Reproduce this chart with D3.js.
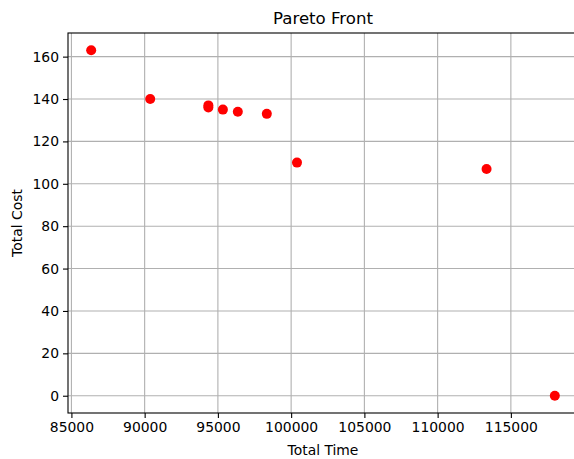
<!DOCTYPE html>
<html>
<head>
<meta charset="utf-8">
<script src="https://cdn.jsdelivr.net/npm/d3@7"></script>
<style>
  html, body { margin: 0; padding: 0; background: #fff; }
  svg { display: block; font-family: "DejaVu Sans", sans-serif; }
</style>
</head>
<body>
<svg id="chart" width="574" height="459"></svg>
<script>
const totalTime = [86350, 90380, 94350, 94350, 95340, 96360, 98340, 100400, 113340, 118000];
const totalCost = [163, 140, 137, 136, 135, 134, 133, 110, 107, 0];
const xTicks = [85000, 90000, 95000, 100000, 105000, 110000, 115000];
const yTicks = [0, 20, 40, 60, 80, 100, 120, 140, 160];
const titleText = "Pareto Front";
const xLabel = "Total Time";
const yLabel = "Total Cost";

const svg = d3.select("#chart");
const mLeft = 68, mRight = 578, mTop = 33, mBottom = 413;

const xMin = d3.min(totalTime), xMax = d3.max(totalTime);
const yMin = d3.min(totalCost), yMax = d3.max(totalCost);
const xPad = (xMax - xMin) * 0.05, yPad = (yMax - yMin) * 0.05;

const x = d3.scaleLinear().domain([xMin - xPad, xMax + xPad]).range([mLeft, mRight]);
const y = d3.scaleLinear().domain([yMin - yPad, yMax + yPad]).range([mBottom, mTop]);

// grid
svg.append("g").selectAll("line").data(xTicks).join("line")
  .attr("x1", d => x(d)).attr("x2", d => x(d))
  .attr("y1", mTop).attr("y2", mBottom)
  .attr("stroke", "#b0b0b0").attr("stroke-width", 1.1);
svg.append("g").selectAll("line").data(yTicks).join("line")
  .attr("x1", mLeft).attr("x2", mRight)
  .attr("y1", d => y(d)).attr("y2", d => y(d))
  .attr("stroke", "#b0b0b0").attr("stroke-width", 1.1);

// axes
const xAxis = d3.axisBottom(x).tickValues(xTicks).tickFormat(d3.format("d")).tickSizeOuter(0).tickSize(5).tickPadding(4);
const yAxis = d3.axisLeft(y).tickValues(yTicks).tickFormat(d3.format("d")).tickSizeOuter(0).tickSize(5).tickPadding(4);

const gx = svg.append("g").attr("transform", `translate(0,${mBottom})`).call(xAxis);
const gy = svg.append("g").attr("transform", `translate(${mLeft},0)`).call(yAxis);
[gx, gy].forEach(g => {
  g.select(".domain").remove();
  g.selectAll(".tick line").attr("stroke", "#000").attr("stroke-width", 1.1);
  g.selectAll(".tick text").attr("fill", "#000").style("font-size", "13.9px").style("font-family", "DejaVu Sans");
});

// spines
svg.append("rect").attr("x", mLeft).attr("y", mTop)
  .attr("width", mRight - mLeft).attr("height", mBottom - mTop)
  .attr("fill", "none").attr("stroke", "#000").attr("stroke-width", 1.1);

// points
svg.append("g").selectAll("circle").data(totalTime.map((t, i) => [t, totalCost[i]])).join("circle")
  .attr("cx", d => x(d[0])).attr("cy", d => y(d[1]))
  .attr("r", 5).attr("fill", "#ff0000");

// labels
svg.append("text").attr("x", (mLeft + mRight) / 2).attr("y", 24)
  .attr("text-anchor", "middle").style("font-size", "16.6px").text(titleText);
svg.append("text").attr("x", (mLeft + mRight) / 2).attr("y", 455)
  .attr("text-anchor", "middle").style("font-size", "13.9px").text(xLabel);
svg.append("text").attr("transform", `translate(22,${(mTop + mBottom) / 2}) rotate(-90)`)
  .attr("text-anchor", "middle").style("font-size", "13.9px").text(yLabel);
</script>
</body>
</html>
